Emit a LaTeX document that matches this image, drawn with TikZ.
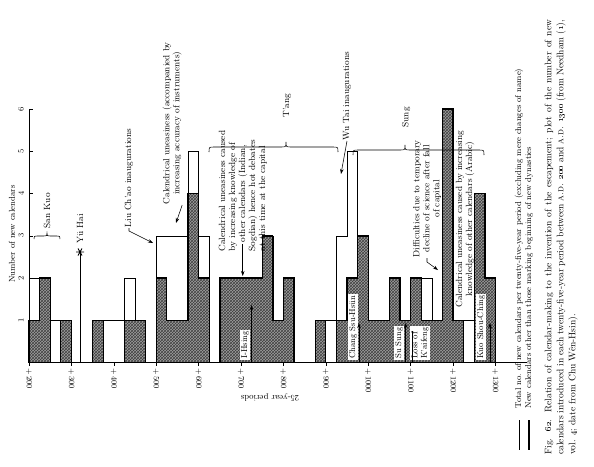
\documentclass[tikz,border=0pt]{standalone}
\usetikzlibrary{patterns,arrows.meta,calc}
\newcommand\HPath{(0,0) -- (0,1) -- (1,1) -- (1,2) -- (2,2) -- (2,0) -- (3,0) -- (3,1) -- (4,1) -- (4,0) -- (6,0) -- (6,1) -- (7,1) -- (7,0) -- (9,0) -- (9,1) -- (11,1) -- (11,0) -- (12,0) -- (12,2) -- (13,2) -- (13,1) -- (15,1) -- (15,4) -- (16,4) -- (16,2) -- (17,2) -- (17,0) -- (18,0) -- (18,2) -- (22,2) -- (22,3) -- (23,3) -- (23,1) -- (24,1) -- (24,2) -- (25,2) -- (25,0) -- (27,0) -- (27,1) -- (28,1) -- (28,0) -- (29,0) -- (29,1) -- (30,1) -- (30,2) -- (31,2) -- (31,3) -- (32,3) -- (32,1) -- (34,1) -- (34,2) -- (35,2) -- (35,1) -- (36,1) -- (36,2) -- (37,2) -- (37,1) -- (39,1) -- (39,6) -- (40,6) -- (40,1) -- (41,1) -- (41,0) -- (42,0) -- (42,4) -- (43,4) -- (43,2) -- (44,2) -- (44,0)}
\newcommand\TPath{(0,0) -- (0,2) -- (2,2) -- (2,1) -- (4,1) -- (4,0) -- (6,0) -- (6,1) -- (9,1) -- (9,2) -- (10,2) -- (10,1) -- (11,1) -- (11,0) -- (12,0) -- (12,3) -- (15,3) -- (15,5) -- (16,5) -- (16,3) -- (17,3) -- (17,0) -- (18,0) -- (18,2) -- (22,2) -- (22,3) -- (23,3) -- (23,1) -- (24,1) -- (24,2) -- (25,2) -- (25,0) -- (27,0) -- (27,1) -- (29,1) -- (29,3) -- (30,3) -- (30,5) -- (31,5) -- (31,3) -- (32,3) -- (32,1) -- (34,1) -- (34,2) -- (35,2) -- (35,1) -- (36,1) -- (36,2) -- (38,2) -- (38,1) -- (39,1) -- (39,6) -- (40,6) -- (40,1) -- (42,1) -- (42,4) -- (43,4) -- (43,2) -- (44,2) -- (44,0)}
\newcommand\mybrace[5]{\draw[thinl] (#1,#4+#5) .. controls (#1,#4) .. (#1+#5,#4) -- (#2-#5,#4) .. controls (#2,#4) .. (#2,#4-#5) .. controls (#2,#4) .. (#2+#5,#4) -- (#3-#5,#4) .. controls (#3,#4) .. (#3,#4+#5);}
\begin{document}
\begin{tikzpicture}[x=1pt,y=-1pt,
  thinl/.style={line width=0.55pt},
  thickl/.style={line width=1.25pt, line join=miter},
  ann/.style={font=\fontsize{9}{10}\selectfont, rotate=90, inner sep=0.5pt},
  lbl/.style={font=\fontsize{8.5}{9.5}\selectfont, rotate=90, fill=white, inner sep=1pt, anchor=west},
  tickl/.style={font=\fontsize{8}{9}\selectfont, rotate=-90, anchor=west, inner sep=1pt},
  arr/.style={line width=0.55pt, -{Stealth[length=5pt,width=3.5pt]}},
]
\useasboundingbox (0,0) rectangle (594,466);
\fill[white] (0,0) rectangle (594,466);

% bars
\begin{scope}[shift={(29,362.7)}, x=10.6pt, y=42.3pt]
  \fill[black!38] \HPath -- cycle;
  \fill[pattern=crosshatch, pattern color=black!75] \HPath -- cycle;
  \draw[thinl] \TPath;
  \draw[thickl] \HPath;
  \draw[thickl] (0,0) -- (47,0);
  \draw[thinl] (0,0) -- (0,6);
  \foreach \k in {1,...,6} {
    \draw[thinl] (0,\k) -- (0.4,\k);
    \node[font=\fontsize{8}{9}\selectfont, rotate=90] (yl\k) at (-0.75,\k) {\k};
  }
\end{scope}

\node[font=\fontsize{8.5}{10}\selectfont, rotate=90] (ylab) at (12,234) {Number of new calendars};

% x tick labels
\foreach \c in {200,300,...,1300} {
  \pgfmathsetmacro\xx{29+(\c-200)*0.424}
  \draw[thinl] (\xx,362.7) -- (\xx,366);
  \node[tickl] (xl\c) at (\xx,367) {+\,\c};
}
\node[font=\fontsize{8.5}{10}\selectfont, rotate=180] (xlab) at (270,398) {25-year periods};

% braces and dynasties
\mybrace{34}{47}{60}{236}{3}
\node[ann, anchor=west] (sankuo) at (47,229) {San Kuo};
\mybrace{209}{286}{338}{147}{5}
\node[ann, anchor=west] (tang) at (287,118) {T'ang};
\mybrace{353}{405}{484}{150}{5}
\node[ann, anchor=west] (sung) at (406,128) {Sung};

% Yu Hai
\coordinate (ast) at (80,252);
\coordinate (yhbase) at (80,362.7);
\draw[line width=0.9pt] (76,252) -- (84,252) (78,248.5) -- (82,255.5) (78,255.5) -- (82,248.5);
\draw[thinl] (ast) -- (yhbase);
\node[ann, anchor=west] (yuhai) at (80,244) {Y\"u Hai};

% Liu Ch'ao
\node[ann, anchor=west] (liu) at (129,228) {Liu Ch'ao inaugurations};
\coordinate (liutip) at (153,243);
\draw[arr] (liu.west) -- ++(0,3) -- (liutip);

% accompanied
\node[ann, anchor=west, align=center] (cu1) at (172,205) {Calendrical uneasiness (accompanied by\\increasing accuracy of instruments)};
\coordinate (cu1tip) at (176,223);
\draw[arr] (cu1.south west) -- (cu1tip);

% Indian Sogdian
\node[ann, anchor=north west, align=left] (cu2) at (218,252) {Calendrical uneasiness caused\\by increasing knowledge of\\\hspace{9pt}other calendars (Indian,\\Sogdian) hence hot debates\\at this time at the capital};
\coordinate (a3) at ($(cu2.north west)!0.5!(cu2.south west)$);
\coordinate (cu2tip) at (240,276);
\draw[arr] ([yshift=8pt]a3) -- (a3 |- cu2tip);

% I-Hsing
\node[lbl] (ihs) at (245,360) {I-Hsing};
\coordinate (ihb) at (251.5,362.7);
\coordinate (iht) at (251.5,305);
\draw[arr] (ihb) -- (iht);

% Wu Tai
\node[ann, anchor=west] (wutai) at (347,141) {Wu Tai inaugurations};
\coordinate (wttip) at (341,174);
\draw[arr] (wutai.west) -- (wttip);

% Chang Ssu-Hsun
\node[lbl] (chang) at (353,360) {Chang Ssu-Hs\"un};
\coordinate (chb) at (359,362.7);
\coordinate (cht) at (359,323);
\draw[arr] (chb) -- (cht);

% Su Sung
\node[lbl] (susung) at (399,360) {Su Sung};
\coordinate (ssb) at (405.7,362.7);
\coordinate (sst) at (405.7,323);
\draw[arr] (ssb) -- (sst);

% Loss of K'aifeng
\node[lbl, align=left] (loss) at (420,360) {Loss of\\K'aifeng};
\coordinate (lob) at (412,362.7);
\coordinate (lot) at (412,331);
\draw[thinl] (lob) -- (lot);

% Difficulties
\node[ann, anchor=west, align=center] (dif) at (427,258) {Difficulties due to temporary\\decline of science after fall\\of capital};
\coordinate (diftip) at (438,270);
\draw[arr] (dif.west) -- ++(0,4) -- (diftip);

% Arabic
\node[ann, anchor=west, align=center] (arab) at (465,308) {Calendrical uneasiness caused by increasing\\knowledge of other calendars (Arabic)};

% Kuo Shou-Ching
\node[lbl] (kuo) at (481,360) {Kuo Shou-Ching};
\coordinate (kub) at (490,362.7);
\coordinate (kut) at (490,323);
\draw[arr] (kub) -- (kut);

% legend
\coordinate (lg1a) at (519,420); \coordinate (lg1b) at (519,450);
\coordinate (lg2a) at (529,420); \coordinate (lg2b) at (529,450);
\draw[thinl] (lg1a) -- (lg1b);
\draw[thickl] (lg2a) -- (lg2b);
\node[font=\fontsize{8.5}{10}\selectfont, rotate=90, anchor=west] (leg1) at (519,412) {Total no.\ of new calendars per twenty-five-year period (excluding mere changes of name)};
\node[font=\fontsize{8.5}{10}\selectfont, rotate=90, anchor=west] (leg2) at (529,412) {New calendars other than those marking beginning of new dynasties};

% caption
\node[font=\fontsize{9.5}{11}\selectfont, rotate=90, anchor=west, inner sep=0pt] (cap1) at (549,455) {\makebox[435pt][s]{Fig. \oldstylenums{62}. Relation of calendar-making to the invention of the escapement; plot of the number of new}};
\node[font=\fontsize{9.5}{11}\selectfont, rotate=90, anchor=west, inner sep=0pt] (cap2) at (561,455) {\makebox[435pt][s]{calendars introduced in each twenty-five-year period between \textsc{a.d.} \oldstylenums{200} and \textsc{a.d.} \oldstylenums{1300} (from Needham (\oldstylenums{1}),}};
\node[font=\fontsize{9.5}{11}\selectfont, rotate=90, anchor=west, inner sep=0pt] (cap3) at (573,455) {vol. \oldstylenums{4}; date from Chu W\^en-Hsin).};
\end{tikzpicture}
\end{document}
